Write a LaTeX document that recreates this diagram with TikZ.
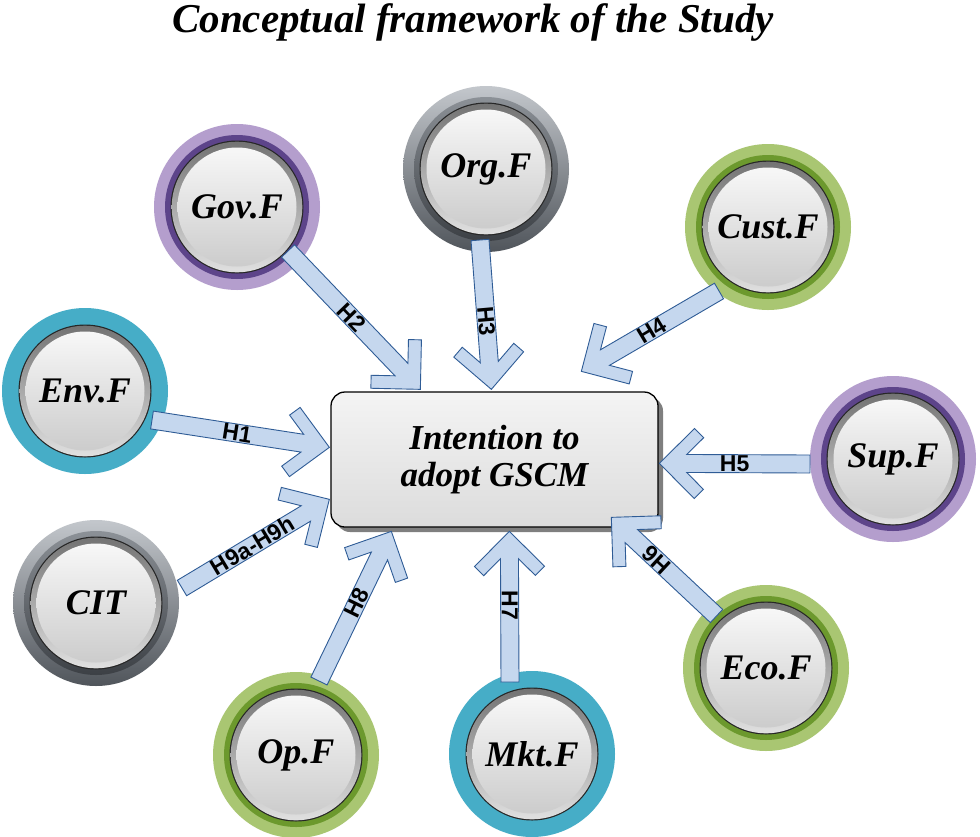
\documentclass[tikz,border=0pt]{standalone}
\usepackage{fontspec}
\setmainfont{Liberation Serif}
\newfontfamily\hfont{Liberation Sans}
\usetikzlibrary{calc,shadows}
\definecolor{purpleL}{HTML}{B49ECD}
\definecolor{purpleD}{HTML}{5D448A}
\definecolor{tealR}{HTML}{46ADC7}
\definecolor{greenL}{HTML}{A9C672}
\definecolor{greenD}{HTML}{6C992D}
\definecolor{grayT}{HTML}{C3C7CC}
\definecolor{grayB}{HTML}{50555B}
\definecolor{grayBT}{HTML}{8C9197}
\definecolor{grayBB}{HTML}{3C4045}
\definecolor{arrfill}{HTML}{C5D7EE}
\definecolor{arredge}{HTML}{2F5C96}
\definecolor{boxfill}{HTML}{EFEFEF}
\tikzset{
  arr/.style={fill=arrfill, draw=arredge, line width=0.9pt, line join=miter},
  hlab/.style={font=\hfont\bfseries\fontsize{23}{23}\selectfont, inner sep=0pt},
  flabel/.style={circle, minimum size=166pt, inner sep=0pt,
     font=\fontsize{36}{38}\selectfont\bfseries\itshape},
  gscmbox/.style={rectangle, rounded corners=14pt, draw=black, line width=1.3pt,
     top color=boxfill!70!white, bottom color=boxfill!92!black,
     minimum width=327pt, minimum height=135pt, align=center,
     font=\fontsize{35}{37}\selectfont\bfseries\itshape,
     drop shadow={shadow xshift=5pt, shadow yshift=-5pt, opacity=0.5, fill=black}},
}
% #1 name, #2 position, #3 ring style, #4 band style, #5 text
\newcommand\factorcircle[5]{%
  \path[#3] #2 circle (83pt);
  \path[#4] #2 circle (72pt);
  \fill[black!85] #2 circle (66.5pt);
  \shade[top color=black!55, bottom color=black!12] #2 circle (65.3pt);
  \shade[top color=black!3, bottom color=black!20] #2 circle (59.5pt);
  \node[flabel] (#1) at #2 {#5};
}
% #1 start coordinate, #2 tip coordinate
\newcommand\hyparrow[2]{%
  \path[arr] (#2) -- ($(#2)!49.5pt!45:(#1)$) -- ($(#2)!51.2pt!30.3:(#1)$)
    -- ($(#2)!28.8pt!18.2:(#1)$) -- ($(#1)!9pt!-90:(#2)$)
    -- ($(#1)!9pt!90:(#2)$) -- ($(#2)!28.8pt!-18.2:(#1)$)
    -- ($(#2)!51.2pt!-30.3:(#1)$) -- ($(#2)!49.5pt!-45:(#1)$) -- cycle;
}
\begin{document}
\begin{tikzpicture}[x=1pt, y=-1pt]
\useasboundingbox[fill=white] (0,0) rectangle (980,836);

\node[anchor=base, font=\fontsize{41}{41}\selectfont\bfseries\itshape] (title) at (473,32)
  {Conceptual framework of the Study};

% factor circles
\factorcircle{gov}{(237,207)}{fill=purpleL}{fill=purpleD}{Gov.F}
\factorcircle{org}{(486,169)}{top color=grayT, bottom color=grayB}{top color=grayBT, bottom color=grayBB}{Org.F}
\factorcircle{cust}{(768,227)}{fill=greenL}{fill=greenD}{Cust.F}
\factorcircle{env}{(85,391)}{fill=tealR}{fill=tealR}{Env.F}
\factorcircle{sup}{(893,459)}{fill=purpleL}{fill=purpleD}{Sup.F}
\factorcircle{cit}{(96,603)}{top color=grayT, bottom color=grayB}{top color=grayBT, bottom color=grayBB}{CIT}
\factorcircle{eco}{(766,668)}{fill=greenL}{fill=greenD}{Eco.F}
\factorcircle{op}{(296,755)}{fill=greenL}{fill=greenD}{Op.F}
\factorcircle{mkt}{(532,754)}{fill=tealR}{fill=tealR}{Mkt.F}

% central box
\node[gscmbox] (box) at (494.5,459.5) {Intention to\\adopt GSCM};

% arrow start points (on the circles) and tips (at the box)
\coordinate (s1) at ($(env)+(67,29)$);
\coordinate (s2) at ($(gov)+(51,44)$);
\coordinate (s3) at ($(org)+(-6,71)$);
\coordinate (s4) at ($(cust)+(-49,64)$);
\coordinate (s5) at ($(sup)+(-83,5)$);
\coordinate (s6) at ($(eco)+(-49.5,-52)$);
\coordinate (s7) at ($(mkt)+(-22,-72)$);
\coordinate (s8) at ($(op)+(23,-74)$);
\coordinate (s9) at ($(cit)+(86,-15)$);

\coordinate (t1) at ($(box.north west)+(-1,56)$);
\coordinate (t2) at ($(box.north west)+(90,-2)$);
\coordinate (t3) at ($(box.north west)+(161,-2)$);
\coordinate (t4) at ($(box.north west)+(251,-20)$);
\coordinate (t5) at ($(box.north west)+(329,72)$);
\coordinate (t6) at ($(box.north west)+(281,126)$);
\coordinate (t7) at ($(box.north west)+(179,140)$);
\coordinate (t8) at ($(box.north west)+(61,140)$);
\coordinate (t9) at ($(box.north west)+(-1,108)$);

\hyparrow{s1}{t1}
\hyparrow{s2}{t2}
\hyparrow{s3}{t3}
\hyparrow{s4}{t4}
\hyparrow{s5}{t5}
\hyparrow{s6}{t6}
\hyparrow{s7}{t7}
\hyparrow{s8}{t8}
\hyparrow{s9}{t9}

\node[hlab, rotate=-9]  (h1) at ($(s1)!0.48!(t1)$) {H1};
\node[hlab, rotate=-46] (h2) at ($(s2)!0.48!(t2)$) {H2};
\node[hlab, rotate=-85] (h3) at ($(s3)!0.545!(t3)$) {H3};
\node[hlab, rotate=31]  (h4) at ($(s4)!0.49!(t4)$) {H4};
\node[hlab]             (h5) at ($(s5)!0.5!(t5)$) {H5};
\node[hlab, rotate=137] (h6) at ($(s6)!0.57!(t6)$) {H6};
\node[hlab, rotate=-90] (h7) at ($(s7)!0.51!(t7)$) {H7};
\node[hlab, rotate=64]  (h8) at ($(s8)!0.52!(t8)$) {H8};
\node[hlab, rotate=31]  (h9) at ($(s9)!0.48!(t9)$) {H9a-H9h};
\end{tikzpicture}
\end{document}
